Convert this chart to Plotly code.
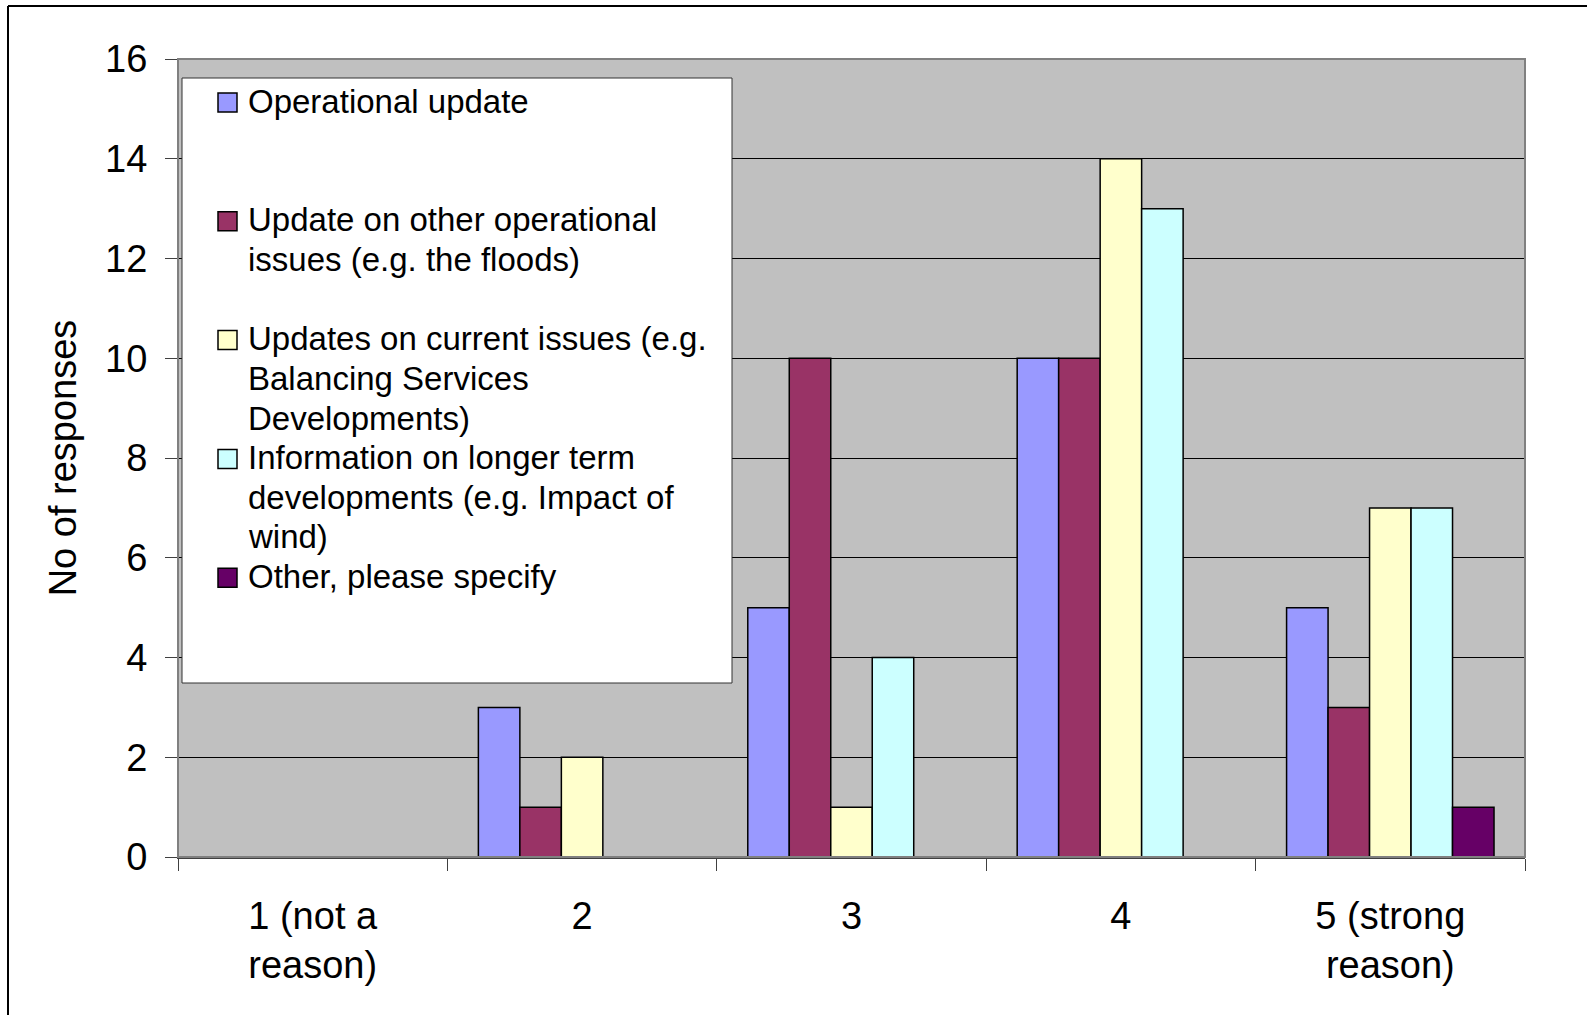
import plotly.graph_objects as go

categories = ["1 (not a<br>reason)", "2", "3", "4", "5 (strong<br>reason)"]
series_names = [
    "Operational update",
    "Update on other operational<br>issues (e.g. the floods)",
    "Updates on current issues (e.g.<br>Balancing Services<br>Developments)",
    "Information on longer term<br>developments (e.g. Impact of<br>wind)",
    "Other, please specify",
]
operational_update = [0, 3, 5, 10, 5]
other_operational = [0, 1, 10, 10, 3]
current_issues = [0, 2, 1, 14, 7]
longer_term = [0, 0, 4, 13, 7]
other_specify = [0, 0, 0, 0, 1]
colors = ["#9999FF", "#993366", "#FFFFCC", "#CCFFFF", "#660066"]
y_ticks = [0, 2, 4, 6, 8, 10, 12, 14, 16]

all_values = [operational_update, other_operational, current_issues, longer_term, other_specify]

FONT = "Liberation Sans, Arial, sans-serif"
fig = go.Figure()
for name, vals, col in zip(series_names, all_values, colors):
    fig.add_trace(go.Bar(
        x=categories, y=vals, name=name.replace("<br>", " "),
        marker=dict(color=col, line=dict(color="black", width=1.5)),
        showlegend=False,
    ))

W, H = 1587, 1015
L, R, T, B = 178, 62, 59, 158
pw, ph = W - L - R, H - T - B


def px(xp):
    return (xp - L) / pw


def py(yp):
    return (H - B - yp) / ph


shapes = [
    # plot area border
    dict(type="rect", xref="paper", yref="paper", x0=0, x1=1, y0=0, y1=1,
         line=dict(color="#808080", width=2), layer="above"),
    # outer chart frame (top and left edges visible)
    dict(type="line", xref="paper", yref="paper", x0=px(8), x1=px(W + 5), y0=py(6), y1=py(6),
         line=dict(color="black", width=2)),
    dict(type="line", xref="paper", yref="paper", x0=px(8), x1=px(8), y0=py(6), y1=py(H + 5),
         line=dict(color="black", width=2)),
    # legend box
    dict(type="rect", xref="paper", yref="paper", x0=px(182), x1=px(732), y0=py(78), y1=py(683),
         fillcolor="white", line=dict(color="#333333", width=1), layer="above"),
]
annotations = []

# legend entries (Excel-style: evenly spaced entries)
item_top = 102.5
item_pitch = 118.8
line_pitch = 39.7
sym = 19
for i, (name, col) in enumerate(zip(series_names, colors)):
    cy = item_top + i * item_pitch
    shapes.append(dict(
        type="rect", xref="paper", yref="paper",
        x0=px(218), x1=px(218 + sym), y0=py(cy - sym / 2), y1=py(cy + sym / 2),
        fillcolor=col, line=dict(color="black", width=1.5), layer="above",
    ))
    for k, line in enumerate(name.split("<br>")):
        annotations.append(dict(
            xref="paper", yref="paper", x=px(246), y=py(cy - 1.5 + k * line_pitch),
            xanchor="left", yanchor="middle", showarrow=False, text=line,
            font=dict(family=FONT, size=33, color="black"), align="left",
        ))

fig.update_layout(
    width=W, height=H,
    margin=dict(l=L, r=R, t=T, b=B),
    paper_bgcolor="white",
    plot_bgcolor="#C0C0C0",
    barmode="group",
    bargap=0.23,
    bargroupgap=0,
    font=dict(family=FONT, color="black", size=38),
    showlegend=False,
    xaxis=dict(
        type="category",
        tickson="boundaries",
        ticks="outside", ticklen=12, tickcolor="#404040", tickwidth=1,
        showline=True, linecolor="#404040", linewidth=2,
        showgrid=False,
        tickfont=dict(family=FONT, size=38, color="black"),
        ticklabelstandoff=24,
    ),
    yaxis=dict(
        range=[0, 16],
        tickvals=y_ticks,
        ticks="outside", ticklen=12, tickcolor="#404040", tickwidth=1,
        showline=True, linecolor="#404040", linewidth=1,
        showgrid=True, gridcolor="black", gridwidth=1,
        zeroline=False,
        tickfont=dict(family=FONT, size=38, color="black"),
        ticklabelstandoff=10,
        title=dict(text="No of responses", font=dict(family=FONT, size=38, color="black"), standoff=16),
    ),
    shapes=shapes,
    annotations=annotations,
)

fig.write_html("out.html", config={"displayModeBar": False},
               post_script="document.body.style.margin='0';")
